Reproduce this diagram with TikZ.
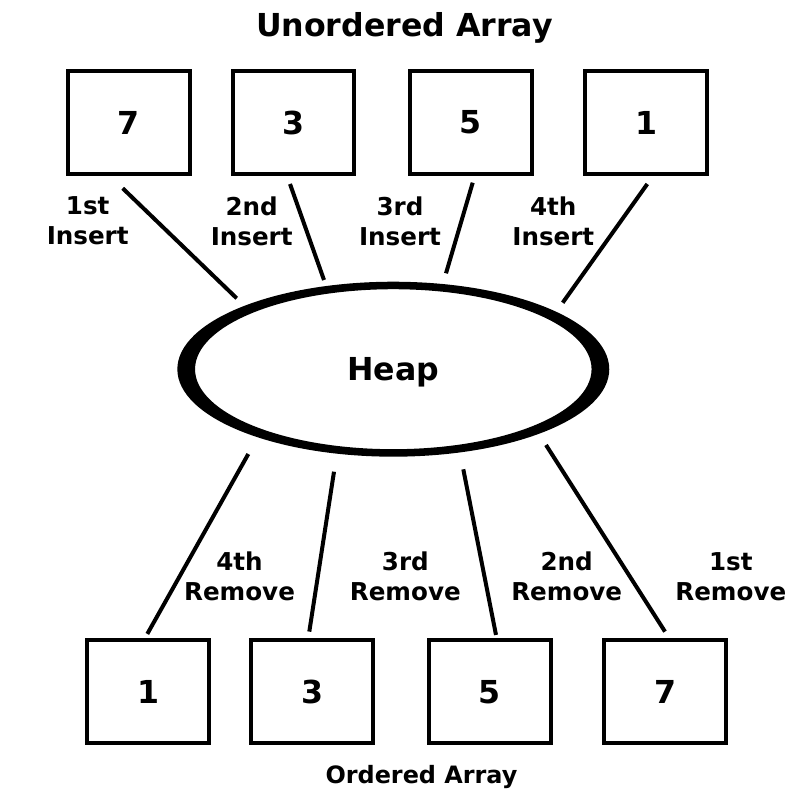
\documentclass[tikz,border=0pt]{standalone}
\usepackage{fontspec}
\setmainfont{DejaVu Sans}
\usetikzlibrary{shapes.geometric}
\tikzstyle{every node}=[font=\bfseries]
\tikzstyle{cell}=[draw,rectangle,line width=0.08cm,minimum width=2.44cm,minimum height=2.06cm,inner sep=0pt,outer sep=0pt,font=\fontsize{18}{22}\selectfont\bfseries]
\tikzstyle{tag}=[align=center,font=\fontsize{14}{17}\selectfont\bfseries]
\tikzstyle{link}=[line width=0.08cm]

\begin{document}
\begin{tikzpicture}[x=0.02cm,y=-0.02cm]
	\useasboundingbox (0,0) rectangle (800,800);
	\node(top)[anchor=base,font=\fontsize{18}{22}\selectfont\bfseries] at (404.5,37) {Unordered Array};
	\node(t1)[cell] at (129,122.5) {7};
	\node(t2)[cell] at (293.5,122.5) {3};
	\node(t3)[cell] at (470.8,122.5) {5};
	\node(t4)[cell] at (646.3,122.5) {1};

	\node(heap)[ellipse,minimum width=8.64cm,minimum height=3.5cm,inner sep=0pt,outer sep=0pt,text depth=0pt,font=\fontsize{18}{22}\selectfont\bfseries] at (393.3,369.2) {Heap};
	\fill[even odd rule] (heap.center) ellipse (4.32cm and 1.75cm) ellipse (3.966cm and 1.6cm);

	\node(b1)[cell] at (148.3,691.7) {1};
	\node(b2)[cell] at (312.2,691.7) {3};
	\node(b3)[cell] at (489.7,691.7) {5};
	\node(b4)[cell] at (665,691.7) {7};
	\node(bottom)[anchor=base,font=\fontsize{13.6}{17}\selectfont\bfseries] at (421.5,783) {Ordered Array};

	\node(i1)[tag] at (87.7,221) {1st\\Insert};
	\node(i2)[tag] at (251.7,221) {2nd\\Insert};
	\node(i3)[tag] at (400,221) {3rd\\Insert};
	\node(i4)[tag] at (553.3,221) {4th\\Insert};
	\node(r4)[tag] at (239.5,576.6) {4th\\Remove};
	\node(r3)[tag] at (405.3,576.6) {3rd\\Remove};
	\node(r2)[tag] at (566.7,576.6) {2nd\\Remove};
	\node(r1)[tag] at (730.8,576.6) {1st\\Remove};

	\path[link] ([shift={(-6.3,14.3)}]t1.south) edge ([shift={(-156.6,-70.9)}]heap.center)
	            ([shift={(-3.5,10)}]t2.south) edge ([shift={(-69.3,-89.2)}]heap.center)
	            ([shift={(1.9,8.7)}]t3.south) edge ([shift={(52.7,-95.9)}]heap.center)
	            ([shift={(1,10)}]t4.south) edge ([shift={(169.4,-66.5)}]heap.center)
	            ([shift={(-145,84.8)}]heap.center) edge ([shift={(-1,-6.3)}]b1.north)
	            ([shift={(-59.3,102.5)}]heap.center) edge ([shift={(-2.9,-8.6)}]b2.north)
	            ([shift={(70,100.1)}]heap.center) edge ([shift={(6.3,-5.3)}]b3.north)
	            ([shift={(152.7,75.8)}]heap.center) edge ([shift={(0,-8.6)}]b4.north);
\end{tikzpicture}
\end{document}
